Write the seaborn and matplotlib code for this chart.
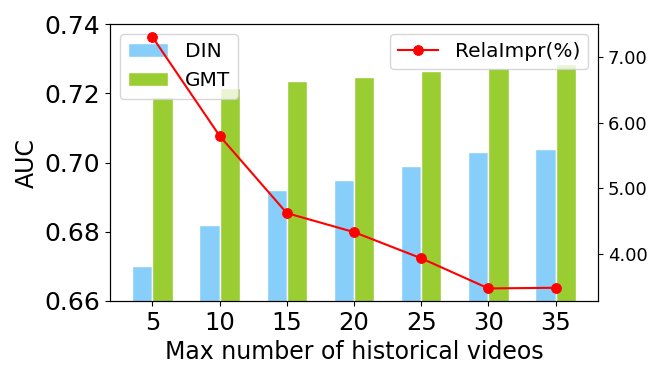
import numpy as np
import pandas as pd
import matplotlib
matplotlib.use("Agg")
import matplotlib.pyplot as plt
from matplotlib.ticker import FormatStrFormatter
import seaborn as sns

categories = ["5", "10", "15", "20", "25", "30", "35"]
din_auc = [0.670, 0.682, 0.692, 0.695, 0.699, 0.703, 0.704]
gmt_auc = [0.719, 0.7217, 0.7237, 0.7249, 0.7264, 0.7274, 0.7285]
rela_impr = [7.31, 5.80, 4.62, 4.33, 3.93, 3.47, 3.48]

df = pd.DataFrame({
    "Max number of historical videos": categories * 2,
    "AUC": din_auc + gmt_auc,
    "Model": ["DIN"] * len(categories) + ["GMT"] * len(categories),
})
line_df = pd.DataFrame({"pos": np.arange(len(categories)), "RelaImpr": rela_impr})

fig = plt.figure(figsize=(6.64, 3.8), dpi=100)
ax = fig.add_axes([110 / 664, 79 / 380, 488 / 664, 276.7 / 380])

sns.barplot(data=df, x="Max number of historical videos", y="AUC", hue="Model",
            palette={"DIN": "#87CEFA", "GMT": "#9ACD32"}, width=0.6, gap=0,
            saturation=1, edgecolor="white", linewidth=1, ax=ax)
ax.set_ylim(0.66, 0.74)
ax.set_yticks([0.66, 0.68, 0.70, 0.72, 0.74])
ax.yaxis.set_major_formatter(FormatStrFormatter("%.2f"))
ax.set_xlim(-0.63, 6.63)
ax.tick_params(axis="y", labelsize=18)
ax.tick_params(axis="x", labelsize=17.5)
ax.set_xlabel("Max number of historical videos", fontsize=17)
ax.set_ylabel("AUC", fontsize=17)
ax.legend(loc="upper left", fontsize=14.5)

ax2 = ax.twinx()
sns.lineplot(data=line_df, x="pos", y="RelaImpr", color="red", marker="o",
             markersize=7, markeredgecolor="red", linewidth=1.5,
             label="RelaImpr(%)", ax=ax2)
ax2.set_ylabel("")
ax2.yaxis.set_major_formatter(FormatStrFormatter("%.2f"))
ax2.tick_params(axis="y", labelsize=13)
ax2.legend(loc="upper right", fontsize=14.5)
ax2.set_xlim(-0.63, 6.63)

fig.savefig("out.png", dpi=100)
